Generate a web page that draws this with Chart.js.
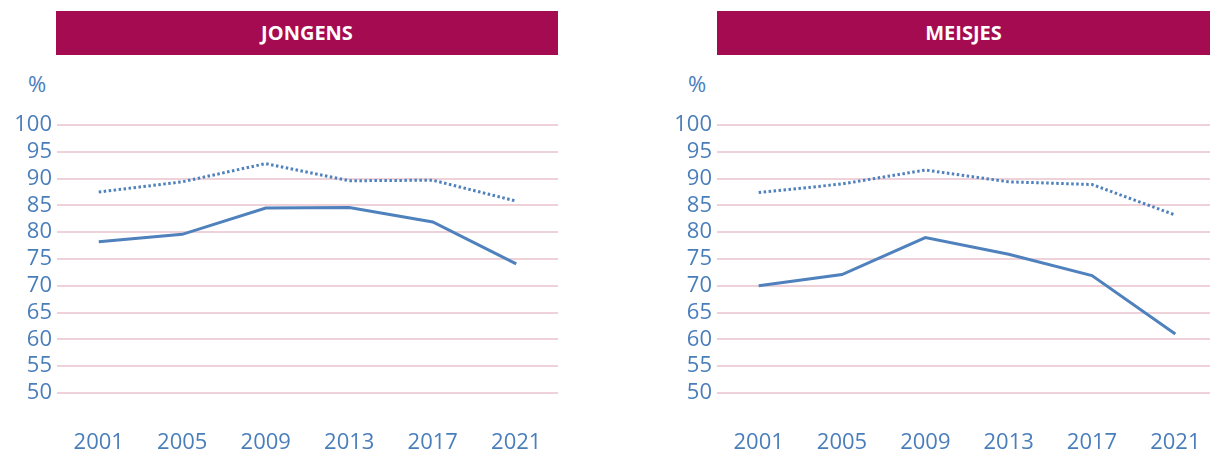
<!DOCTYPE html>
<html>
<head>
<meta charset="utf-8">
<script src="https://cdn.jsdelivr.net/npm/chart.js"></script>
<style>
  body { margin: 0; width: 1210px; height: 450px; background: #fff; position: relative; overflow: hidden; font-family: "Open Sans", sans-serif; }
  .bar { position: absolute; top: 11px; height: 44px; background: #a50b50; color: #fff; font-weight: bold; font-size: 20px; line-height: 44px; text-align: center; }
  .pct { position: absolute; top: 68px; color: #4a7ebb; font-size: 22px; }
  canvas { position: absolute; top: 0; }
</style>
</head>
<body>
<div class="bar" style="left:56px;width:502px">JONGENS</div>
<div class="bar" style="left:717px;width:493px">MEISJES</div>
<div class="pct" style="left:28px">%</div>
<div class="pct" style="left:688px">%</div>
<div style="position:absolute;left:0;top:0;width:560px;height:450px"><canvas id="boys"></canvas></div>
<div style="position:absolute;left:660px;top:0;width:557px;height:450px"><canvas id="girls"></canvas></div>
<script>
// survey years
const years = ['2001', '2005', '2009', '2013', '2017', '2021'];

// jongens
const boysDotted = [87.5, 89.4, 92.8, 89.6, 89.7, 85.8];
const boysSolid  = [78.2, 79.6, 84.5, 84.6, 81.9, 74.1];

// meisjes
const girlsDotted = [87.4, 89.0, 91.6, 89.4, 88.9, 83.2];
const girlsSolid  = [70.0, 72.1, 79.0, 75.9, 71.9, 61.0];

const blue = '#4f81bd';
const tickBlue = '#4a7ebb';

function makeChart(id, dotted, solid, rightPad) {
    return new Chart(document.getElementById(id).getContext('2d'), {
        type: 'line',
        data: {
            labels: years,
            datasets: [
                { data: dotted, borderColor: blue, borderWidth: 3, borderDash: [2.5, 2.5], pointRadius: 0, tension: 0 },
                { data: solid, borderColor: blue, borderWidth: 3, pointRadius: 0, tension: 0 }
            ]
        },
        options: {
            responsive: true,
            maintainAspectRatio: false,
            animation: false,
            layout: { padding: { top: 125, right: rightPad, left: 0, bottom: 0 } },
            plugins: { legend: { display: false }, tooltip: { enabled: false } },
            scales: {
                x: {
                    offset: true,
                    grid: { display: false },
                    border: { display: false },
                    ticks: { autoSkip: false, color: tickBlue, font: { family: 'Open Sans', size: 22 }, padding: 29, maxRotation: 0 },
                    afterFit: s => { s.height = 57; s.paddingLeft = 0; s.paddingRight = 0; }
                },
                y: {
                    min: 50, max: 100,
                    grid: { color: '#efd1da', lineWidth: 2, drawTicks: false },
                    border: { display: false },
                    ticks: { autoSkip: false, stepSize: 5, color: tickBlue, font: { family: 'Open Sans', size: 22 }, padding: 5 },
                    afterFit: s => { s.width = 57; s.paddingTop = 0; s.paddingBottom = 0; }
                }
            }
        }
    });
}

makeChart('boys', boysDotted, boysSolid, 2);
makeChart('girls', girlsDotted, girlsSolid, 0);
</script>
</body>
</html>
